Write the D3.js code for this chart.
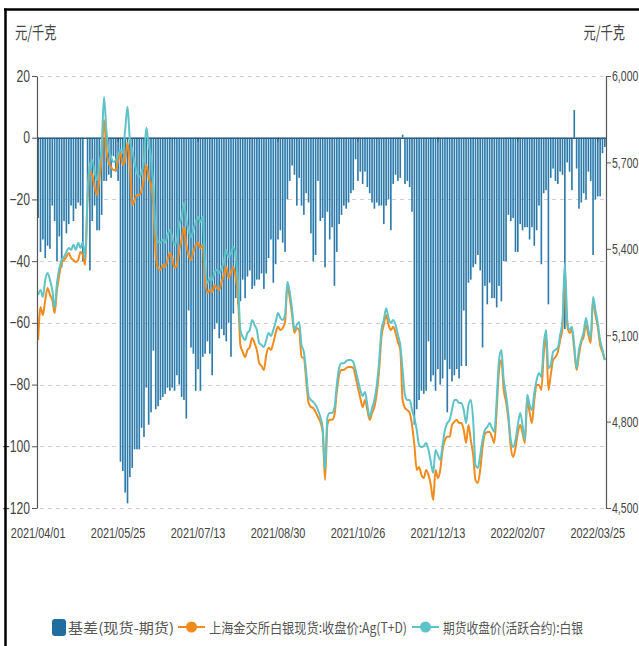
<!DOCTYPE html>
<html><head><meta charset="utf-8">
<script src="https://cdn.jsdelivr.net/npm/d3@7"></script>
<style>body{margin:0;background:#fff} svg{display:block}</style>
</head><body><svg id="c" width="639" height="646"></svg>
<script>
// 基差(现货-期货), 元/千克, one value per trading day from 2021/04/01
const basis = [
-26,-37,-33,-39,-35,-36,-22,-27,-40,-32,
-42,-27,-31,-28,-22,-27,-23,-21,-22,-40,
0,-19,-43,-27,-22,-30,-30,-25,-14,-14,
-12,-13,-6,-11,-14,-105,-108,-115,-118.5,-110,
-107,-101,-101,-101,-94,-97,-81,-93,-89,-69,
-88,-87,-85,-84,-83,-81,-82,-81,-82,-77,
-80,-84,-85,-91,-56,-68,-70,-82,-75,-82,
-71,-70,-66,-70,-77,-62,-60,-65,-62,-64,
-66,-60,-71,-57,-52,-54,-53,-46,-52,-45,
-43,-49,-48,-46,-46,-44,-49,-44,-39,-33,
-47,-41,-33,-30,-34,-37,-20,-14,-9,-12,
-22,-13,-22,-25,-18,-21,-31,-40,-38,-14,
-27,-26,-42,-24,-33,-29,-48,-37,-28,-25,
-22,-23,-21,-18,-17,-7,-14,-11,-15,-11,
-16,-18,-21,-23,-21,-22,-22,-28,-22,-20,
-30,-15,-12,-14,-13,1,-15,-14,-16,-24,
-93,-88,-85,-82,-83,-82,-66,-79,-77,-82,
-75,-80,-78,-72,-89,-75,-79,-77,-75,-78,
-74,-56,-74,-47,-46,-42,-41,-38,-43,-68,
-48,-54,-47,-52,-52,-55,-48,-53,-40,-40,
-25,-27,-26,-37,-37,-28,-30,-29,-29,-33,
-29,-35,-30,-22,-41,-18,-17,-54,-13,-10,
-14,-15,-11,-12,-62,-8,-11,-17,9,-10,
-23,-21,-18,-20,-11,-14,-38,-20,-19,-19,
-5,-3];

// 上海金交所白银现货:收盘价:Ag(T+D)
const spot = [
5083,5198,5170,5222,5264,5240,5222,5177,5257,5309,
5351,5361,5372,5385,5368,5361,5354,5361,5389,5378,
5344,5569,5667,5656,5615,5587,5639,5719,5847,5743,
5698,5684,5674,5674,5708,5733,5691,5708,5767,5691,
5552,5569,5587,5587,5604,5646,5691,5646,5622,5552,
5378,5333,5326,5344,5337,5361,5385,5368,5333,5344,
5396,5431,5476,5414,5378,5361,5389,5414,5421,5403,
5414,5292,5247,5257,5250,5274,5264,5257,5285,5309,
5337,5299,5319,5337,5302,5229,5066,5042,5024,5049,
5059,5090,5073,5049,5003,4993,4979,5031,5056,5049,
5073,5108,5129,5118,5125,5146,5274,5229,5170,5108,
5125,5118,5024,5021,4944,4865,4851,4847,4833,4816,
4799,4764,4597,4788,4806,4806,4823,4903,4962,4979,
4979,4986,4990,4990,4986,4955,4917,4882,4851,4875,
4840,4806,4830,4851,4899,4979,5094,5136,5170,5136,
5118,5129,5108,5076,5049,4875,4847,4840,4830,4788,
4719,4632,4642,4615,4604,4632,4615,4580,4528,4632,
4604,4632,4701,4736,4747,4747,4788,4799,4806,4795,
4795,4771,4726,4788,4736,4684,4597,4587,4632,4712,
4757,4764,4764,4747,4726,4840,4979,5014,4910,4868,
4806,4712,4677,4708,4760,4788,4760,4726,4875,4833,
4795,4875,4927,4927,4910,5031,5094,4910,4962,5014,
5024,5042,5083,5125,5326,5136,5108,5118,5049,4979,
5031,5076,5094,5136,5101,5073,5222,5170,5129,5066,
5042,5014];

// 期货收盘价(活跃合约):白银
const futures = [
5240,5257,5233,5292,5316,5292,5257,5194,5282,5333,
5361,5372,5389,5403,5396,5414,5396,5421,5403,5424,
5368,5594,5691,5708,5667,5639,5691,5753,5927,5813,
5743,5719,5701,5708,5726,5743,5733,5813,5893,5778,
5743,5698,5664,5650,5667,5708,5820,5760,5719,5615,
5458,5424,5421,5431,5421,5448,5465,5441,5414,5431,
5483,5510,5559,5500,5465,5441,5465,5493,5510,5493,
5510,5344,5282,5299,5292,5319,5326,5316,5333,5354,
5396,5372,5385,5406,5372,5282,5118,5094,5083,5108,
5118,5153,5136,5118,5073,5066,5059,5083,5108,5097,
5118,5146,5177,5160,5153,5170,5285,5250,5188,5118,
5136,5146,5066,5042,4972,4889,4875,4868,4858,4840,
4816,4778,4632,4813,4830,4830,4847,4927,4986,5003,
5003,5010,5014,5014,5007,4979,4944,4910,4889,4903,
4858,4816,4847,4875,4927,5007,5118,5153,5194,5160,
5142,5153,5136,5101,5066,4979,4893,4875,4875,4840,
4813,4771,4719,4712,4715,4726,4701,4660,4622,4701,
4684,4667,4719,4771,4795,4806,4840,4875,4875,4865,
4865,4840,4795,4858,4875,4806,4649,4639,4684,4736,
4771,4781,4795,4778,4764,4875,5014,5049,4944,4893,
4823,4736,4712,4736,4788,4830,4788,4736,4893,4858,
4840,4899,4944,4969,4955,5066,5118,4986,4997,5042,
5049,5056,5101,5153,5351,5153,5118,5129,5066,4986,
5049,5083,5111,5160,5118,5090,5233,5188,5142,5083,
5049,5014];

const xTickLabels = ["2021/04/01","2021/05/25","2021/07/13","2021/08/30","2021/10/26","2021/12/13","2022/02/07","2022/03/25"];
const leftTicks = [20,0,-20,-40,-60,-80,-100,-120];
const rightTicks = [6000,5700,5400,5100,4800,4500];
const unitLabel = "元/千克";
const seriesNames = ["基差(现货-期货)","上海金交所白银现货:收盘价:Ag(T+D)","期货收盘价(活跃合约):白银"];
const startDate = "2021-04-01";
const holidays = ["2021-04-05","2021-05-03","2021-05-04","2021-05-05","2021-06-14","2021-09-20","2021-09-21",
"2021-10-01","2021-10-04","2021-10-05","2021-10-06","2021-10-07","2022-01-03","2022-01-31","2022-02-01",
"2022-02-02","2022-02-03","2022-02-04"];

// trading-day categories
const fmtKey = d3.utcFormat("%Y-%m-%d"), fmtLab = d3.utcFormat("%Y/%m/%d");
const dates = [];
for (let d = new Date(startDate + "T00:00:00Z"); dates.length < basis.length; d = d3.utcDay.offset(d, 1)) {
  const wd = d.getUTCDay();
  if (wd === 0 || wd === 6 || holidays.includes(fmtKey(d))) continue;
  dates.push(fmtLab(d));
}

const C = {bar:"#2d7bab", barLegend:"#1f6e9e", spot:"#f28b1d", fut:"#5ec3c6", grid:"#cfcfcf", axis:"#555"};
const NUM = "'Liberation Sans', Arial, sans-serif";
const CJK = "'Noto Sans CJK SC', 'Noto Sans', sans-serif";
const L = 37, R = 606, T = 76, B = 508;

const svg = d3.select("#c");
svg.append("rect").attr("width",639).attr("height",646).attr("fill","#fff");

const x = d3.scaleBand().domain(dates).range([L, R]).paddingInner(0.3).paddingOuter(0.15);
const yL = d3.scaleLinear().domain([-120, 20]).range([B, T]);
const yR = d3.scaleLinear().domain([4500, 6000]).range([B, T]);
const cx = d => x(d) + x.bandwidth() / 2;

// grid
svg.append("g").selectAll("line").data(leftTicks.filter(v => v !== 0)).join("line")
  .attr("x1", L + 3).attr("x2", R).attr("y1", d => Math.round(yL(d)) + 0.5).attr("y2", d => Math.round(yL(d)) + 0.5)
  .attr("stroke", C.grid).attr("stroke-dasharray", "4,4");

// bars
svg.append("g").selectAll("rect").data(basis).join("rect")
  .attr("x", (d, i) => x(dates[i]))
  .attr("width", x.bandwidth())
  .attr("y", d => yL(Math.max(0, d)))
  .attr("height", d => Math.abs(yL(d) - yL(0)))
  .attr("fill", C.bar);

// category axis on the zero line
const xAxis = svg.append("g").attr("transform", `translate(0,${yL(0)})`)
  .call(d3.axisBottom(x).tickValues(xTickLabels).tickSize(4).tickSizeOuter(0).tickFormat(""));
xAxis.select(".domain").attr("stroke", "#2f5f7f").attr("stroke-width", 1.4);
xAxis.selectAll(".tick line").attr("stroke", "#2f4f66");

// x labels
const xl = svg.append("g").attr("transform", `translate(0,538)`);
xTickLabels.forEach(lab => {
  xl.append("g").attr("transform", `translate(${cx(lab)},0) scale(0.78,1)`)
    .append("text").attr("text-anchor", "middle").attr("font-family", NUM).attr("font-size", 14)
    .attr("fill", "#444").text(lab);
});

// lines
const line = s => d3.line().x((d, i) => cx(dates[i])).y(d => yR(d)).curve(d3.curveMonotoneX)(s);
svg.append("path").attr("d", line(spot)).attr("fill", "none").attr("stroke", C.spot).attr("stroke-width", 2);
svg.append("path").attr("d", line(futures)).attr("fill", "none").attr("stroke", C.fut).attr("stroke-width", 2);

// left axis
const sx = 0.76;
const la = svg.append("g").attr("transform", `translate(${L},0)`)
  .call(d3.axisLeft(yL).tickValues(leftTicks).tickSize(5).tickSizeOuter(0).tickPadding(2));
la.select(".domain").attr("stroke", C.axis).attr("stroke-width", 1.2);
la.selectAll(".tick line").attr("stroke", C.axis);
la.selectAll(".tick text").attr("font-family", NUM).attr("font-size", 16).attr("fill", "#444")
  .attr("transform", `scale(${sx},1)`).attr("x", -7 / sx);

// right axis
const rsx = 0.68;
const ra = svg.append("g").attr("transform", `translate(${R},0)`)
  .call(d3.axisRight(yR).tickValues(rightTicks).tickSize(5).tickSizeOuter(0).tickPadding(1).tickFormat(d3.format(",")));
ra.select(".domain").attr("stroke", C.axis).attr("stroke-width", 1.2);
ra.selectAll(".tick line").attr("stroke", C.axis);
ra.selectAll(".tick text").attr("font-family", NUM).attr("font-size", 15.5).attr("fill", "#444")
  .attr("transform", `scale(${rsx},1)`).attr("x", 6 / rsx);

// unit labels
[[15, "start"], [625, "end"]].forEach(([ux, anc]) => {
  svg.append("g").attr("transform", `translate(${ux},39) scale(0.72,1)`)
    .append("text").attr("text-anchor", anc).attr("font-family", CJK).attr("font-size", 17)
    .attr("fill", "#444").text(unitLabel);
});

// legend
const lg = svg.append("g");
lg.append("rect").attr("x", 52).attr("y", 619).attr("width", 14).attr("height", 17).attr("rx", 3).attr("fill", C.barLegend);
const ltxt = (lx, s, w) => lg.append("text").attr("x", lx).attr("y", 633)
  .attr("font-family", CJK).attr("font-size", 14).attr("fill", "#555")
  .attr("textLength", w).attr("lengthAdjust", "spacingAndGlyphs").text(s);
ltxt(68, seriesNames[0], 106);
[[178, C.spot, seriesNames[1], 198], [412, C.fut, seriesNames[2], 140]].forEach(([mx, col, s, w]) => {
  lg.append("line").attr("x1", mx).attr("x2", mx + 27).attr("y1", 627).attr("y2", 627).attr("stroke", col).attr("stroke-width", 2);
  lg.append("circle").attr("cx", mx + 13.5).attr("cy", 627).attr("r", 5.5).attr("fill", col);
  ltxt(mx + 31, s, w);
});

// frame
svg.append("line").attr("x1", 4).attr("x2", 639).attr("y1", 9.5).attr("y2", 9.5).attr("stroke", "#000").attr("stroke-width", 2.5);
svg.append("line").attr("x1", 5.5).attr("x2", 5.5).attr("y1", 8.5).attr("y2", 646).attr("stroke", "#000").attr("stroke-width", 2.5);
</script></body></html>
